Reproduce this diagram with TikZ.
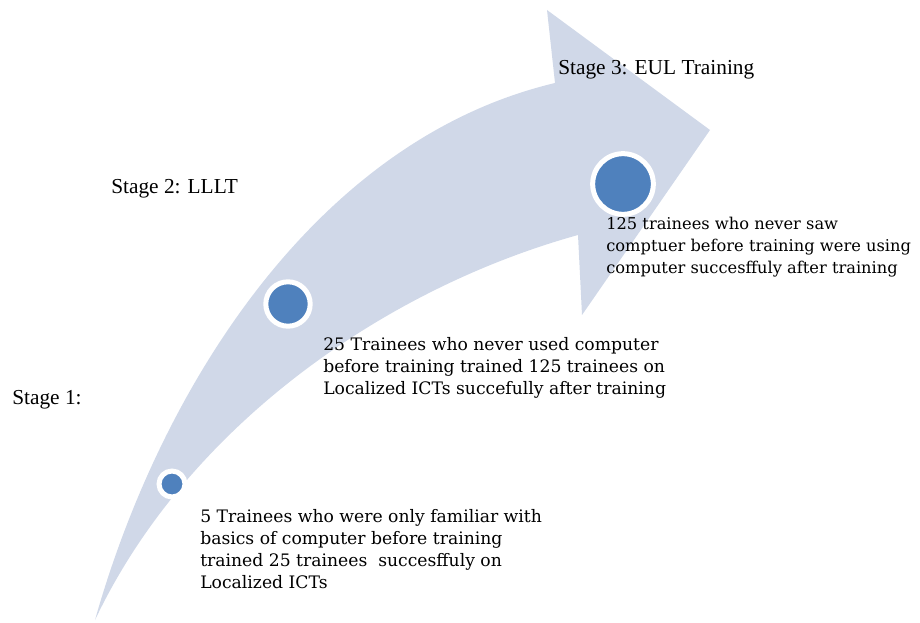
\documentclass[tikz,border=0pt]{standalone}
\usepackage{fontspec}
\setmainfont{Liberation Serif}
\newfontfamily\notefont{DejaVu Serif}
\definecolor{bandblue}{HTML}{D0D8E8}
\definecolor{dotblue}{HTML}{4F81BD}
\tikzset{
  stage/dot/.style={circle, fill=dotblue, draw=white, line width=3.75pt, inner sep=0pt},
  stage/label/.style={anchor=base west, inner sep=0pt, font=\fontsize{16}{19}\selectfont},
  stage/note/.style={anchor=north west, inner sep=0pt, align=left, font=\notefont\fontsize{12.9}{16.5}\selectfont}
}
\begin{document}
\begin{tikzpicture}[x=0.75pt, y=-0.75pt]
  \useasboundingbox (0,0) rectangle (920,623);

  % the sweeping band and its head
  \fill[bandblue] (95,620) .. controls (160,390) and (315,140) .. (555,83)
    -- (547,10) -- (710,130) -- (582,315) -- (578,235)
    .. controls (380,290) and (185,430) .. cycle;

  % one dot per stage, growing along the band
  \node[stage/dot, minimum size=19.5pt] (dot1) at (172,484) {};
  \node[stage/dot, minimum size=33.3pt] (dot2) at (288,304) {};
  \node[stage/dot, minimum size=45.5pt] (dot3) at (623,184) {};

  % stage names
  \node[stage/label] (lab1) at (12,404) {Stage 1:};
  \node[stage/label] (lab2) at (111,194) {Stage 2: LLLT};
  \node[stage/label] (lab3) at (558,75) {Stage 3: EUL Training};

  % what happened at each stage
  \node[stage/note] (note1) at (200,509) {5 Trainees who were only familiar with\\
    basics of computer before training\\
    trained 25 trainees\ \ succesffuly on\\
    Localized ICTs};
  \node[stage/note] (note2) at (323,337) {25 Trainees who never used computer\\
    before training trained 125 trainees on\\
    Localized ICTs succefully after training};
  \node[stage/note, font=\notefont\fontsize{12.2}{16.5}\selectfont] (note3) at (606,217) {125 trainees who never saw\\
    comptuer before training were using\\
    computer succesffuly after training};
\end{tikzpicture}
\end{document}
